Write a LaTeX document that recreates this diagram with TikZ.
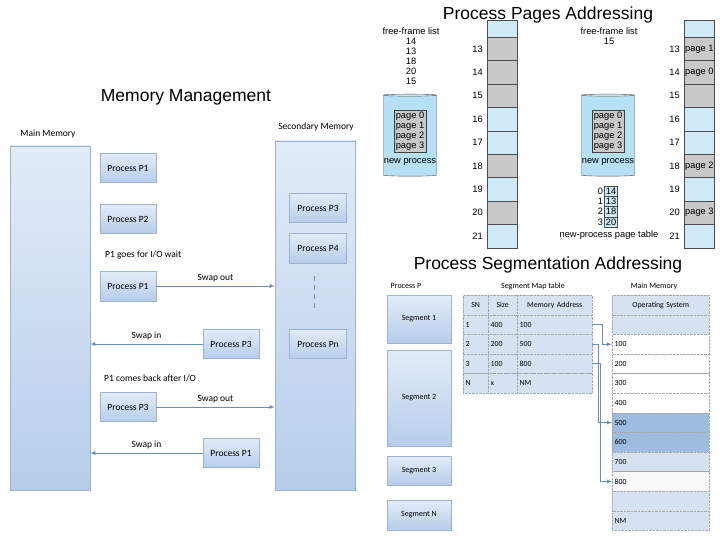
\documentclass[tikz,border=0pt]{standalone}
\usepackage{fontspec}
\setmainfont{Liberation Sans}
\newfontfamily\carl{Carlito}
\usepackage{tikz}
\usetikzlibrary{arrows,calc,shapes.geometric}
\definecolor{boxtop}{HTML}{E2ECF8}
\definecolor{boxbot}{HTML}{B6CDEB}
\definecolor{boxline}{HTML}{9DB3CF}
\definecolor{pgray}{HTML}{C9C9C9}
\definecolor{pblue}{HTML}{CFE9F8}
\definecolor{cylb}{HTML}{B5E0F5}
\definecolor{cyle}{HTML}{E4F4FC}
\definecolor{arr}{HTML}{6A8DB5}
\definecolor{mdark}{HTML}{9DBCE0}
\definecolor{mlight}{HTML}{D6E2F2}
\tikzset{
  box/.style={draw=boxline, top color=boxtop, bottom color=boxbot, inner sep=0pt,
    font=\carl\fontsize{9.5}{10}\selectfont},
  lbl/.style={inner sep=0pt, font=\carl\fontsize{9.5}{10}\selectfont},
  ttl/.style={inner sep=0pt, font=\fontsize{17.5}{20}\selectfont},
  sm/.style={inner sep=0pt, font=\fontsize{9.3}{10}\selectfont},
  swap/.style={draw=arr, thick, -latex},
  cell/.style={draw=gray!70, densely dotted, fill=mlight, minimum height=19.6pt, inner sep=2.5pt,
    anchor=north west, font=\carl\fontsize{7.8}{8}\selectfont, align=left, text width=#1},
  frame/.style={draw=gray!60!black, minimum width=30pt, minimum height=23.4pt, anchor=north west, inner sep=0pt}
}
\begin{document}
\begin{tikzpicture}[x=1pt,y=-1pt]
\useasboundingbox (0,0) rectangle (720,540);
% swapping
\node[ttl] (mmt) at (186,97) {Memory Management};
\node[lbl] (mml) at (48,134) {Main Memory};
\node[lbl] (sml) at (316,127) {Secondary Memory};
\node[box, minimum width=80pt, minimum height=344pt] (mm) at (50,318) {};
\node[box, minimum width=80pt, minimum height=349pt] (sm) at (315,315.5) {};
\node[box, minimum width=56pt, minimum height=29pt] (a1) at (128,168) {Process P1};
\node[box, minimum width=56pt, minimum height=29pt] (a2) at (128,219) {Process P2};
\node[lbl, anchor=west] (w1) at (105,255) {P1 goes for I/O wait};
\node[box, minimum width=56pt, minimum height=30pt] (a3) at (128,286) {Process P1};
\node[box, minimum width=56pt, minimum height=29pt] (b1) at (231,344) {Process P3};
\node[lbl, anchor=west] (w2) at (104,378) {P1 comes back after I/O};
\node[box, minimum width=56pt, minimum height=29pt] (a4) at (128,407) {Process P3};
\node[box, minimum width=56pt, minimum height=29pt] (b2) at (231,453) {Process P1};
\node[box, minimum width=57pt, minimum height=29pt] (s1) at (318,208) {Process P3};
\node[box, minimum width=57pt, minimum height=30pt] (s2) at (318,248) {Process P4};
\node[box, minimum width=57pt, minimum height=29pt] (s3) at (318,344) {Process Pn};
\coordinate (d1) at (314,276);
\coordinate (d2) at (314,310);
\draw[arr, thick, dash pattern=on 5pt off 4pt] (d1) -- (d2);
\draw[swap] (a3.east) -- node[lbl, above=4pt] {Swap out} (a3.east -| sm.west);
\draw[swap] (b1.west) -- node[lbl, above=4pt] {Swap in} (b1.west -| mm.east);
\draw[swap] (a4.east) -- node[lbl, above=4pt] {Swap out} (a4.east -| sm.west);
\draw[swap] (b2.west) -- node[lbl, above=4pt] {Swap in} (b2.west -| mm.east);
% paging
\node[ttl] (pgt) at (548,15) {Process Pages Addressing};
\node[sm, align=center, anchor=north] (ff1) at (411,28) {free-frame list\\14\\13\\18\\20\\15};
\node[sm, align=center, anchor=north] (ff2) at (609,28) {free-frame list\\15};
\foreach \cx/\nm in {410/cy1,608/cy2}{
  \node[cylinder, shape border rotate=90, aspect=0.3, draw=gray!60!black, cylinder uses custom fill,
    cylinder body fill=cylb, cylinder end fill=cyle, minimum width=53pt, minimum height=82pt]
    (\nm) at (\cx,136) {};
  \node[draw=gray!50!black, fill=pgray, sm, align=center, minimum width=31pt, inner sep=1.5pt]
    (\nm p) at (\cx,131) {page 0\\page 1\\page 2\\page 3};
  \node[sm] (\nm n) at (\cx,162) {new process};
}
\foreach \ox/\nm in {487/fa,684/fb}{
  \node[frame, fill=pblue, minimum height=17pt] (\nm0) at (\ox,20) {};
  \foreach \n/\c in {13/pgray,14/pgray,15/pgray,16/pblue,17/pblue,18/pgray,19/pblue,20/pgray,21/pblue}{
    \node[frame, fill=\c] (\nm\n) at (\ox,{37+(\n-13)*23.4}) {};
    \node[sm, anchor=east] (\nm l\n) at ([xshift=-4pt]\nm\n.west) {\n};
  }
}
\foreach \n/\p in {13/1,14/0,18/2,20/3}
  \node[sm, anchor=west] (pg\n) at ([xshift=1pt]fb\n.west) {page \p};
\foreach \i/\f in {0/14,1/13,2/18,3/20}{
  \node[draw=gray!60!black, fill=pblue, sm, minimum width=13pt, minimum height=10.3pt] (pt\i) at (611,{191+\i*10.3}) {\f};
  \node[sm, anchor=east] (pi\i) at ([xshift=-1pt]pt\i.west) {\i};
}
\node[sm] (ptl) at (609,235) {new-process page table};
% segmentation
\node[ttl] (sgt) at (548,265) {Process Segmentation Addressing};
\node[lbl, font=\carl\fontsize{8}{9}\selectfont] (ppl) at (406,286) {Process P};
\node[lbl, font=\carl\fontsize{8}{9}\selectfont] (sml2) at (533,286) {Segment Map table};
\node[lbl, font=\carl\fontsize{8}{9}\selectfont] (mml2) at (654,286) {Main Memory};
\node[box, font=\carl\fontsize{8}{9}\selectfont, minimum width=64pt, minimum height=48pt] (g1) at (419,319) {Segment 1};
\node[box, font=\carl\fontsize{8}{9}\selectfont, minimum width=64pt, minimum height=96pt] (g2) at (419,398) {Segment 2};
\node[box, font=\carl\fontsize{8}{9}\selectfont, minimum width=64pt, minimum height=29pt] (g3) at (419,470.5) {Segment 3};
\node[box, font=\carl\fontsize{8}{9}\selectfont, minimum width=64pt, minimum height=30pt] (g4) at (419,515) {Segment N};
\foreach \a/\b/\c/\al [count=\r from 0] in {SN/Size/Memory Address/center,1/400/100/left,2/200/500/left,3/100/800/left,N/x/NM/left}{
  \node[cell=20pt, align=\al] (ta\r) at (463,{295+\r*19.6}) {\a};
  \node[cell=24pt, align=\al] (tb\r) at (488,{295+\r*19.6}) {\b};
  \node[cell=70pt, align=\al] (tc\r) at (517,{295+\r*19.6}) {\c};
}
\foreach \t/\c/\al [count=\r from 0] in {Operating System/mlight/center,/mlight/left,100/white/left,200/white/left,
    300/white/left,400/white/left,500/mdark/left,600/mdark/left,700/mlight/left,800/gray!5/left,/mlight/left,NM/mlight/left}
  \node[cell=92pt, fill=\c, align=\al] (m\r) at (612,{295+\r*19.6}) {\t};
\coordinate (k1) at (602,0);
\coordinate (k2) at (598,0);
\coordinate (k3) at (600,0);
\draw[swap] (tc1.east) -| (k1 |- m2.west) -- (m2.west);
\draw[swap] (tc2.east) -| (k2 |- m6.west) -- (m6.west);
\draw[swap] (tc3.east) -| (k3 |- m9.west) -- (m9.west);
\end{tikzpicture}
\end{document}
